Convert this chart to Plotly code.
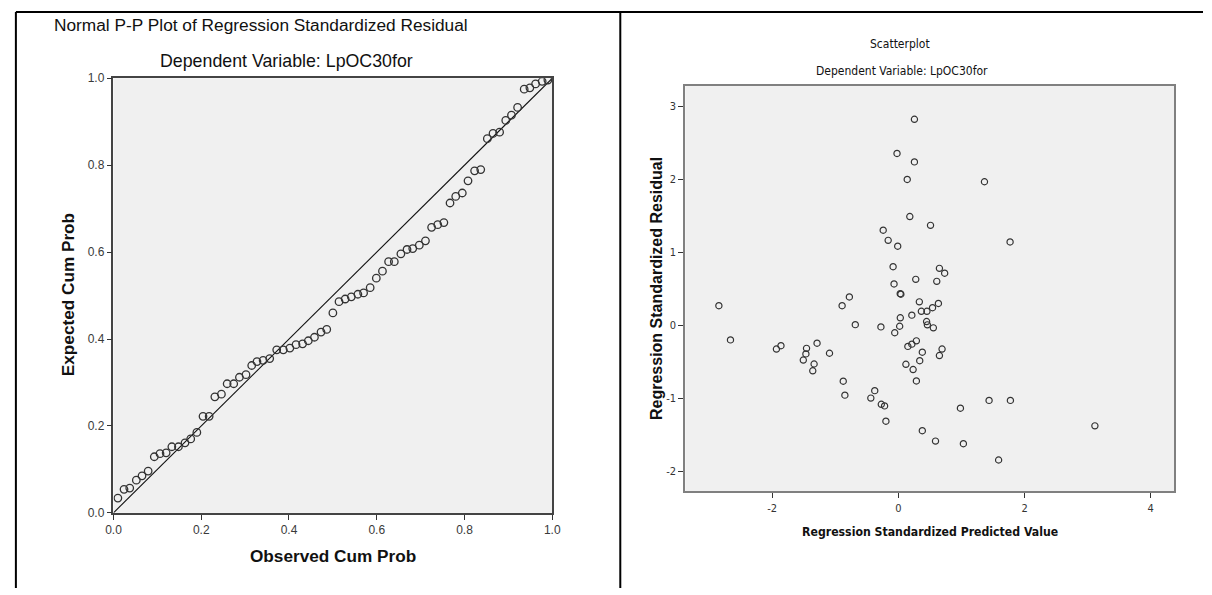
import plotly.graph_objects as go

# ---- Normal P-P plot data (observed vs expected cumulative probability) ----
pp_observed = [
    0.010, 0.024, 0.037, 0.052, 0.065, 0.079, 0.093, 0.106, 0.120, 0.133,
    0.148, 0.163, 0.176, 0.190, 0.204, 0.218, 0.231, 0.246, 0.259, 0.274,
    0.287, 0.302, 0.315, 0.327, 0.341, 0.356, 0.372, 0.387, 0.402, 0.416,
    0.431, 0.444, 0.458, 0.473, 0.486, 0.500, 0.514, 0.528, 0.542, 0.557,
    0.570, 0.585, 0.599, 0.613, 0.627, 0.640, 0.655, 0.669, 0.682, 0.697,
    0.711, 0.725, 0.739, 0.753, 0.767, 0.780, 0.795, 0.808, 0.823, 0.837,
    0.852, 0.865, 0.880, 0.894, 0.907, 0.921, 0.936, 0.949, 0.962, 0.977,
    0.990,
]
pp_expected = [
    0.034, 0.054, 0.057, 0.075, 0.085, 0.096, 0.129, 0.136, 0.138, 0.152,
    0.152, 0.161, 0.170, 0.185, 0.222, 0.222, 0.267, 0.273, 0.297, 0.297,
    0.312, 0.318, 0.339, 0.348, 0.351, 0.355, 0.375, 0.375, 0.379, 0.387,
    0.389, 0.396, 0.404, 0.416, 0.422, 0.460, 0.486, 0.492, 0.497, 0.503,
    0.506, 0.518, 0.540, 0.556, 0.578, 0.578, 0.596, 0.606, 0.608, 0.616,
    0.626, 0.657, 0.663, 0.668, 0.713, 0.728, 0.736, 0.764, 0.787, 0.790,
    0.861, 0.873, 0.876, 0.903, 0.915, 0.933, 0.975, 0.978, 0.987, 0.993,
    0.996,
]
pp_reference = [0.0, 1.0]
pp_ticks = [0.0, 0.2, 0.4, 0.6, 0.8, 1.0]
pp_ticklabels = ["0.0", "0.2", "0.4", "0.6", "0.8", "1.0"]

# ---- Residual scatterplot data ----
std_predicted = [
    -2.844, -2.660, -1.932, -1.860, -1.455, -1.465, -1.506, -1.335, -1.356, -1.288,
    -1.091, -0.891, -0.776, -0.682, -0.873, -0.847, -0.374, -0.436, -0.270, -0.218,
    -0.197, -0.276, -0.240, -0.161, -0.021, -0.010, -0.083, -0.068, 0.030, 0.040,
    0.031, -0.057, 0.021, 0.255, 0.255, 0.141, 0.182, 0.276, 0.214, 0.333,
    0.365, 0.453, 0.542, 0.635, 0.448, 0.460, 0.555, 0.510, 1.365, 1.771,
    0.651, 0.734, 0.609, 0.151, 0.214, 0.286, 0.380, 0.339, 0.120, 0.234,
    0.286, 0.651, 0.693, 0.984, 1.438, 1.776, 3.115, 0.380, 0.589, 1.031,
    1.589,
]
std_residual = [
    0.272, -0.196, -0.321, -0.276, -0.312, -0.388, -0.472, -0.526, -0.619, -0.241,
    -0.379, 0.272, 0.392, 0.013, -0.762, -0.953, -0.891, -0.993, -1.078, -1.100,
    -1.310, -0.018, 1.306, 1.167, 2.357, 1.087, 0.806, 0.570, 0.437, 0.430,
    0.107, -0.098, -0.009, 2.825, 2.242, 2.001, 1.493, 0.633, 0.143, 0.325,
    0.196, 0.196, 0.245, 0.303, 0.055, 0.010, -0.031, 1.373, 1.970, 1.145,
    0.784, 0.717, 0.606, -0.285, -0.254, -0.209, -0.365, -0.481, -0.530, -0.602,
    -0.758, -0.410, -0.321, -1.132, -1.025, -1.025, -1.373, -1.440, -1.582, -1.618,
    -1.841,
]
sc_xticks = [-2, 0, 2, 4]
sc_xticklabels = ["-2", "0", "2", "4"]
sc_yticks = [-2, -1, 0, 1, 2, 3]
sc_yticklabels = ["-2", "-1", "0", "1", "2", "3"]

W, H = 1212, 595


def px(x):
    return x / W


def py(y):
    return 1 - y / H


SANS = "Liberation Sans, Arial, sans-serif"
COND = "DejaVu Sans Condensed, Liberation Sans, sans-serif"
PLOT_BG = "#f0f0f0"

fig = go.Figure()

fig.add_trace(go.Scatter(
    x=pp_reference, y=pp_reference, mode="lines",
    line=dict(color="#111111", width=1.1),
    xaxis="x", yaxis="y", hoverinfo="skip", showlegend=False,
))
fig.add_trace(go.Scatter(
    x=pp_observed, y=pp_expected, mode="markers",
    marker=dict(symbol="circle-open", size=7.5, color="#333333", line=dict(width=1.3)),
    xaxis="x", yaxis="y", showlegend=False,
))
fig.add_trace(go.Scatter(
    x=std_predicted, y=std_residual, mode="markers",
    marker=dict(symbol="circle-open", size=6.2, color="#333333", line=dict(width=1.2)),
    xaxis="x2", yaxis="y2", showlegend=False,
))

axis_common = dict(
    showgrid=False, zeroline=False, showline=True, mirror=True,
    ticks="outside", ticklen=5, tickwidth=1, tickcolor="#333333",
)

fig.update_layout(
    width=W, height=H,
    margin=dict(l=0, r=0, t=0, b=0),
    paper_bgcolor="white",
    plot_bgcolor=PLOT_BG,
    showlegend=False,
    xaxis=dict(
        domain=[px(107), px(552)], range=[0, 1], anchor="y",
        tickvals=pp_ticks, ticktext=pp_ticklabels,
        tickfont=dict(family=SANS, size=12, color="#3a3a3a"),
        linecolor="#444444", linewidth=1.5, **axis_common,
    ),
    yaxis=dict(
        domain=[py(518), py(73)], range=[0, 1], anchor="x",
        tickvals=pp_ticks, ticktext=pp_ticklabels,
        tickfont=dict(family=SANS, size=12, color="#3a3a3a"),
        linecolor="#444444", linewidth=1.5, **axis_common,
    ),
    xaxis2=dict(
        domain=[px(687), px(1183)], range=[-3.375, 4.375], anchor="y2",
        tickvals=sc_xticks, ticktext=sc_xticklabels,
        tickfont=dict(family=COND, size=11, color="#333333"),
        linecolor="#808080", linewidth=2, **axis_common,
    ),
    yaxis2=dict(
        domain=[py(496), py(81)], range=[-2.27, 3.28], anchor="x2",
        tickvals=sc_yticks, ticktext=sc_yticklabels,
        tickfont=dict(family=COND, size=11, color="#333333"),
        linecolor="#808080", linewidth=2, **axis_common,
    ),
)


def label(text, x, y, size, bold=False, family=SANS, angle=0):
    fig.add_annotation(
        text=f"<b>{text}</b>" if bold else text,
        xref="paper", yref="paper", x=px(x), y=py(y),
        xanchor="center", yanchor="middle", showarrow=False,
        textangle=angle, font=dict(family=family, size=size, color="#111111"),
    )


# Left chart titles
label("Normal P-P Plot of Regression Standardized Residual", 257, 18, 17.3)
label("Dependent Variable: LpOC30for", 282, 55, 17.8)
label("Observed Cum Prob", 330, 562, 17.2, bold=True)
label("Expected Cum Prob", 61, 295, 17.2, bold=True, angle=-90)

# Right chart titles
label("Scatterplot", 905, 38, 12, family=COND)
label("Dependent Variable: LpOC30for", 907, 66, 12, family=COND)
label("Regression Standardized Predicted Value", 935, 538, 12.2, bold=True, family=COND)
label("Regression Standardized Residual", 657, 288, 16, bold=True, angle=-90)

# Table frame around the two charts
frame = dict(type="line", xref="paper", yref="paper", line=dict(color="black", width=2))
fig.add_shape(x0=px(8), x1=1, y0=py(5), y1=py(5), **frame)
fig.add_shape(x0=px(8), x1=px(8), y0=py(5), y1=0, **frame)
fig.add_shape(x0=px(621), x1=px(621), y0=py(5), y1=0, **frame)

fig.write_html("out.html")
